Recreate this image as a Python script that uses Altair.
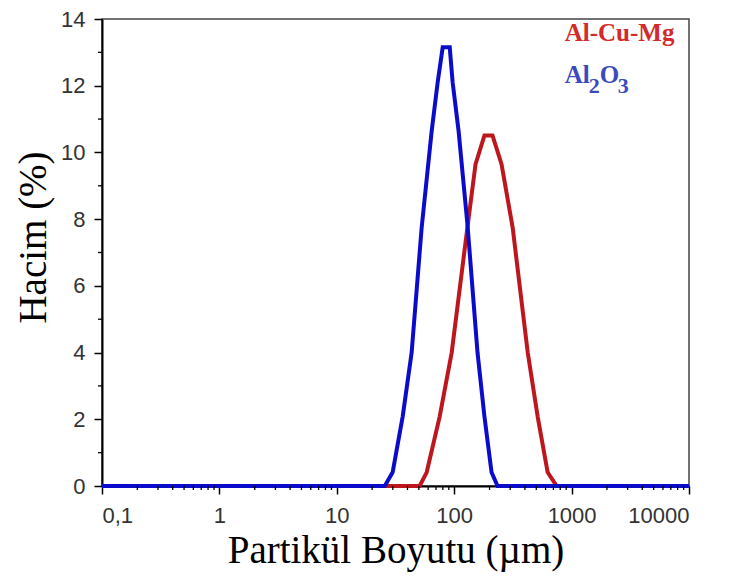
import altair as alt
import pandas as pd

# Particle size distribution values
cu_x = [0.1, 50.8, 58.3, 75.2, 95.2, 128, 152, 181, 212, 253, 315, 423, 514, 625, 746, 10000]
cu_y = [0, 0, 0.41, 2.08, 4.0, 7.6, 9.65, 10.51, 10.51, 9.65, 7.74, 4.0, 2.08, 0.41, 0, 0]

al_x = [0.1, 25.6, 29.9, 36.4, 43.4, 52.8, 64.3, 72.3, 79.8, 91.6, 97, 109, 130, 158, 181, 208, 234, 10000]
al_y = [0, 0, 0.41, 2.08, 4.0, 7.74, 10.64, 12.1, 13.15, 13.15, 12.1, 10.64, 7.8, 4.0, 2.08, 0.41, 0, 0]

x_ticks = [0.1, 1, 10, 100, 1000, 10000]
x_minor = [k * 10 ** e for e in range(-1, 4) for k in range(2, 10)]
y_ticks = [0, 2, 4, 6, 8, 10, 12, 14]
y_minor = [1, 3, 5, 7, 9, 11, 13]

label_text = ["Al-Cu-Mg", "Al", "2", "O", "3"]
label_x = [873, 873, 1399, 1735, 2470]
label_y = [13.34, 12.07, 11.77, 12.07, 11.77]
label_size = [25, 25, 22, 25, 22]
label_col = ["#D42A2A", "#3B4BBE", "#3B4BBE", "#3B4BBE", "#3B4BBE"]

RED = "#BE161D"
BLUE = "#0B0BCB"
W, H = 587, 467

cu_df = pd.DataFrame({"x": cu_x, "y": cu_y})
al_df = pd.DataFrame({"x": al_x, "y": al_y})
xminor_df = pd.DataFrame({"x": x_minor})
yminor_df = pd.DataFrame({"y": y_minor})
lab_df = pd.DataFrame({"t": label_text, "x": label_x, "y": label_y, "s": label_size, "c": label_col})

xscale = alt.Scale(type="log", domain=[0.1, 10000], nice=False)
yscale = alt.Scale(domain=[0, 14], nice=False, zero=False)

xaxis = alt.Axis(
    values=x_ticks,
    labelExpr="replace(format(datum.value, '~g'), '.', ',')",
    title="Partikül Boyutu (µm)",
    grid=False,
    labelPadding=11,
    titlePadding=5,
)
yaxis = alt.Axis(values=y_ticks, title="Hacim (%)", grid=False, labelPadding=9, titlePadding=7, titleY=218)

X = alt.X("x:Q", scale=xscale, axis=xaxis)
Y = alt.Y("y:Q", scale=yscale, axis=yaxis)

cu_line = alt.Chart(cu_df).mark_line(color=RED, strokeWidth=4).encode(x=X, y=Y)
al_line = alt.Chart(al_df).mark_line(color=BLUE, strokeWidth=4).encode(x=X, y=Y)

xminor = alt.Chart(xminor_df).mark_rule(color="black", strokeWidth=1.3).encode(
    x=X, y=alt.value(H), y2=alt.value(H + 4)
)
yminor = alt.Chart(yminor_df).mark_rule(color="black", strokeWidth=1.3).encode(
    y=Y, x=alt.value(0), x2=alt.value(-4)
)

labels = alt.Chart(lab_df).mark_text(
    font="Liberation Serif", fontWeight="bold", align="left", baseline="alphabetic"
).encode(
    x=X, y=Y, text="t:N",
    size=alt.Size("s:Q", scale=None, legend=None),
    color=alt.Color("c:N", scale=None),
)

chart = (
    alt.layer(cu_line, al_line, xminor, yminor, labels)
    .properties(
        width=W,
        height=H,
        autosize=alt.AutoSizeParams(type="none"),
        padding={"left": 94, "top": 11, "right": 30, "bottom": 90},
    )
    .configure_view(stroke="#444", strokeWidth=1.5)
    .configure_axis(
        domainColor="black",
        domainWidth=2,
        tickColor="black",
        tickWidth=1.5,
        tickSize=8,
        labelFont="Liberation Sans",
        labelFontSize=22,
        labelColor="#333",
        titleFont="Liberation Serif",
        titleFontSize=39,
        titleFontWeight="normal",
        titleColor="black",
    )
)

chart.save("out.html", embed_options={"renderer": "svg", "actions": False})
